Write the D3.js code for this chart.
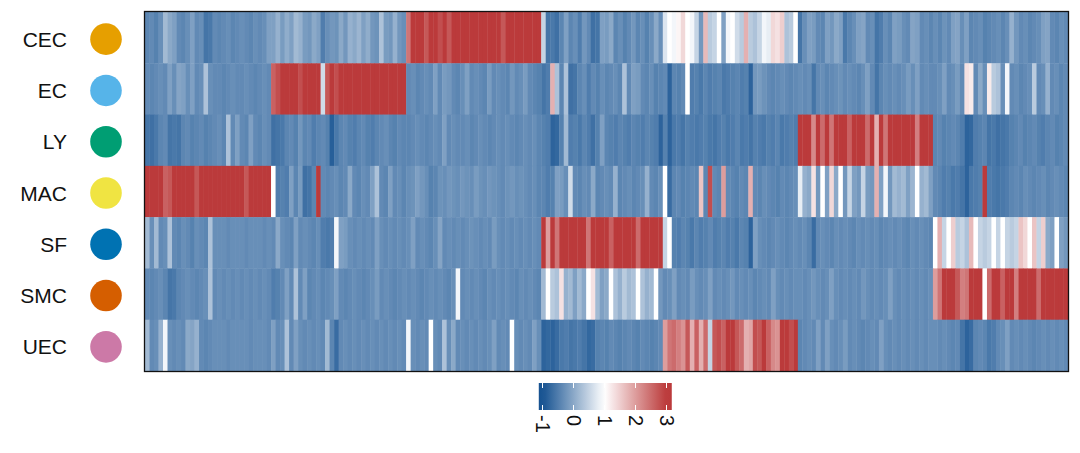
<!DOCTYPE html>
<html>
<head>
<meta charset="utf-8">
<script src="https://cdn.jsdelivr.net/npm/d3@7"></script>
<style>
  body { margin: 0; background: #fff; }
  svg { display: block; font-family: "Liberation Sans", Arial, sans-serif; }
</style>
</head>
<body>
<svg id="chart" width="1080" height="453"></svg>
<script>
// cell types, top to bottom
const rowNames = ['CEC', 'EC', 'LY', 'MAC', 'SF', 'SMC', 'UEC'];
const dotColors = ['#E69F00', '#56B4E9', '#009E73', '#F0E442', '#0072B2', '#D55E00', '#CC79A7'];

// scaled expression per row, marker genes ordered by block:
// MAC(28) | EC(30) | CEC(30) | SF(27) | UEC(30) | LY(30) | SMC(30)
const CEC = [
  -0.4,-0.35,-0.45,-0.3,0.2,0.0,-0.1,-0.35,-0.4,-0.3,-0.1,-0.35,-0.3,-0.6,-0.55,-0.35,-0.4,-0.35,-0.3,-0.4,-0.35,-0.3,-0.35,-0.4,-0.3,-0.35,-0.3,-0.1,
  -0.1,0.1,-0.15,0.05,-0.1,0.2,0.1,-0.15,-0.2,0.0,-0.1,-0.5,-0.3,-0.2,-0.25,0.0,-0.2,0.1,0.0,0.15,-0.1,0.05,-0.2,-0.25,0.3,-0.15,-0.2,0.1,-0.2,-0.3,
  2.4,3,3,3,2.7,3,3,2.8,3,2.7,3,3,3,3,3,3,3,3,3,3,3,2.7,3,3,3,3,3,3,3,3,
  0.5,-0.6,-0.55,-0.65,-0.4,-0.1,-0.4,-0.3,-0.5,-0.2,-0.35,-0.65,-0.6,-0.1,-0.15,0.0,-0.4,-0.3,-0.45,-0.35,-0.2,-0.4,-0.3,-0.45,-0.3,0.0,-0.3,
  0.7,1.0,0.9,1.1,1.4,1.0,0.9,0.5,-0.2,1.7,0.4,0.5,1.0,-0.1,0.9,1.0,0.6,0.4,1.8,0.4,0.3,0.5,0.9,0.8,1.4,1.3,1.5,0.3,0.4,1.0,
  -0.6,-0.3,-0.1,-0.15,-0.35,-0.4,-0.1,-0.2,0.0,-0.1,-0.55,-0.4,-0.3,-0.1,-0.05,-0.35,-0.3,-0.6,-0.5,-0.3,-0.4,-0.1,-0.15,-0.3,-0.35,-0.05,-0.1,-0.35,-0.3,-0.4,
  -0.3,-0.4,-0.25,-0.35,-0.1,-0.05,-0.3,-0.1,-0.4,-0.35,-0.3,-0.45,-0.4,-0.35,-0.3,-0.4,-0.3,0.1,-0.2,-0.35,-0.3,-0.4,-0.35,-0.3,-0.1,-0.05,-0.35,-0.4,-0.3,-0.35
];
const EC = [
  -0.35,-0.4,-0.35,-0.3,-0.35,-0.1,-0.3,-0.05,-0.1,-0.3,-0.1,-0.35,-0.3,0.3,-0.3,-0.35,-0.35,-0.4,-0.35,-0.3,-0.35,-0.35,-0.3,-0.35,-0.4,-0.35,-0.3,-0.35,
  2.6,2.8,3,3,3,3,2.8,3,3,3,3,0.6,2.7,3,2.8,3,3,3,3,3,3,3,3,3,3,3,3,3,3,3,
  -0.35,-0.3,-0.4,-0.35,-0.3,-0.35,-0.1,-0.35,-0.15,-0.2,-0.35,-0.4,-0.3,-0.1,-0.35,-0.3,-0.35,-0.4,-0.15,-0.35,-0.3,-0.35,-0.4,-0.2,-0.35,-0.3,-0.15,-0.35,-0.4,-0.45,
  -0.6,-0.5,1.8,0.3,-0.4,0.3,-0.65,-0.6,-0.4,-0.3,-0.5,-0.35,-0.45,-0.3,-0.4,-0.35,-0.3,-0.4,0.3,-0.35,-0.1,-0.15,-0.35,-0.4,-0.3,-0.45,-0.4,
  -0.35,-0.8,-0.4,-0.45,-0.35,1.0,-0.5,-0.45,-0.55,-0.4,-0.5,-0.45,-0.4,-0.55,-0.5,-0.45,-0.4,-0.5,-0.45,-0.8,-0.2,-0.15,-0.25,-0.35,-0.4,-0.35,-0.3,-0.35,-0.4,-0.35,
  -0.3,-0.35,-0.3,-0.6,-0.35,-0.3,-0.4,-0.35,-0.3,-0.25,-0.35,-0.3,-0.35,-0.4,-0.3,-0.1,-0.35,-0.6,-0.4,-0.3,-0.35,-0.3,-0.35,-0.3,-0.15,-0.3,-0.1,-0.35,-0.3,-0.35,
  -0.35,-0.3,-0.1,-0.35,-0.3,-0.15,-0.35,1.3,1.2,-0.35,0.0,-0.3,1.2,0.4,0.3,-0.3,0.9,-0.35,-0.3,-0.4,-0.35,-0.3,0.4,-0.35,-0.3,0.1,-0.35,-0.3,-0.4,-0.35
];
const LY = [
  -0.6,-0.65,-0.55,-0.4,-0.35,-0.6,-0.55,-0.6,-0.4,-0.35,-0.45,-0.4,-0.35,-0.45,-0.4,-0.35,-0.3,-0.4,0.3,-0.35,-0.1,-0.35,-0.4,-0.1,-0.35,-0.4,-0.3,-0.35,
  -0.65,-0.6,-0.55,-0.4,-0.35,-0.45,-0.2,-0.4,-0.35,-0.5,-0.4,-0.35,-0.45,-0.85,-0.55,-0.4,-0.35,-0.45,-0.5,-0.4,-0.35,-0.45,-0.5,-0.4,-0.35,-0.3,-0.4,-0.45,-0.35,-0.4,
  -0.4,-0.35,-0.3,-0.35,-0.4,-0.35,-0.3,-0.35,-0.1,-0.35,-0.3,-0.35,-0.35,-0.3,-0.4,-0.35,-0.3,-0.35,-0.4,-0.35,-0.3,-0.35,-0.3,-0.35,-0.4,-0.35,-0.3,-0.35,-0.3,-0.4,
  -0.45,-0.5,-0.8,-0.75,-0.45,0.2,-0.5,-0.45,-0.55,-0.4,-0.5,-0.65,-0.45,-0.1,-0.4,-0.45,-0.5,-0.4,-0.45,-0.5,-0.4,-0.45,-0.5,-0.4,-0.45,-0.5,-0.8,
  -0.45,-0.8,-0.55,-0.5,-0.6,-0.45,-0.5,-0.55,-0.5,-0.45,-0.55,-0.6,-0.5,-0.45,-0.55,-0.5,-0.4,-0.55,-0.5,-0.6,-0.45,-0.5,-0.55,-0.45,-0.5,-0.4,-0.55,-0.5,-0.45,-0.5,
  3,3,3,2.2,3,2.5,3,2.4,3,3,3,2.6,3,3,3,2.5,3,1.8,3,2.4,3,3,3,3,3,3,2.3,3,3,3,
  -0.4,-0.35,-0.45,-0.4,-0.35,-0.4,-0.5,-0.8,-0.75,-0.5,-0.45,-0.4,-0.6,-0.55,-0.65,-0.6,-0.55,-0.45,-0.4,-0.35,-0.45,-0.4,-0.35,-0.45,-0.5,-0.4,-0.35,-0.45,-0.4,-0.35
];
const MAC = [
  3,3,3,3,2.6,2.7,3,3,3,3,3,2.7,3,3,3,3,3,3,3,3,3,3,2.7,3,3,3,3,3,
  1.0,-0.5,-0.45,-0.5,-0.1,-0.4,-0.15,-0.65,-0.6,-0.4,3,-0.35,-0.4,-0.35,-0.3,-0.4,-0.35,0.0,-0.35,-0.4,-0.3,-0.35,-0.1,0.3,-0.35,-0.4,-0.1,-0.35,-0.3,-0.4,
  -0.3,-0.25,-0.1,-0.2,-0.3,-0.45,-0.4,-0.25,-0.3,-0.2,-0.25,-0.3,-0.2,-0.25,-0.3,-0.15,-0.25,-0.3,-0.2,-0.25,-0.3,-0.35,-0.25,-0.2,-0.3,-0.25,-0.3,-0.35,-0.3,-0.4,
  -0.4,-0.5,-0.45,-0.1,-0.15,-0.3,0.6,-0.35,-0.4,-0.3,-0.35,0.0,-0.4,-0.35,-0.3,-0.35,0.1,-0.4,-0.35,-0.3,-0.4,-0.35,-0.3,0.1,-0.35,-0.4,-0.3,
  1.0,-0.7,-0.4,-0.35,-0.45,-0.4,-0.35,-0.4,1.6,-0.4,2.8,-0.35,-0.4,2.0,-0.35,-0.4,-0.45,-0.35,-0.4,1.8,-0.35,-0.4,-0.3,-0.35,-0.4,-0.45,-0.35,-0.4,-0.35,-0.3,
  0.8,0.1,0.0,1.3,-0.2,1.0,-0.1,1.4,0.0,1.0,-0.2,0.5,-0.1,-0.2,0.5,-0.15,-0.2,1.8,-0.1,0.9,-0.2,0.2,0.1,0.2,-0.1,0.15,1.0,0.1,0.2,-0.1,
  -0.35,-0.4,-0.5,-0.45,-0.55,-0.5,-0.6,-0.8,-0.55,-0.5,-0.45,3,-0.5,-0.55,-0.6,-0.55,-0.5,-0.4,-0.35,-0.4,-0.3,-0.35,-0.4,-0.35,-0.3,-0.4,-0.35,-0.3,-0.35,-0.4
];
const SF = [
  0.2,-0.3,0.2,-0.35,-0.3,0.3,-0.35,-0.4,-0.3,-0.35,-0.45,-0.3,-0.35,-0.4,0.3,-0.3,-0.3,-0.3,-0.35,-0.3,-0.3,-0.3,-0.35,-0.3,-0.3,-0.3,-0.35,-0.3,
  -0.35,0.0,-0.3,-0.35,-0.4,-0.1,-0.35,-0.3,-0.35,-0.4,-0.3,-0.5,-0.55,-0.5,0.9,-0.1,-0.15,-0.3,-0.35,-0.3,-0.35,-0.3,-0.35,-0.1,-0.3,-0.35,-0.3,-0.35,-0.3,-0.35,
  -0.3,-0.1,-0.35,-0.3,-0.35,-0.4,-0.3,-0.05,-0.35,-0.3,-0.35,-0.3,-0.35,-0.3,-0.25,-0.3,-0.35,-0.3,-0.35,-0.15,-0.3,-0.35,-0.3,-0.35,-0.3,-0.35,-0.3,-0.35,-0.3,-0.35,
  3,2.0,3,2.4,3,3,3,3,3,3,2.4,3,3,3,3,2.6,3,3,3,3,3,2.5,3,3,3,3,3,
  0.5,1.0,-0.45,-0.5,-0.4,-0.45,-0.55,-0.4,-0.5,-0.45,-0.35,-0.5,-0.45,-0.4,-0.5,-0.45,-0.55,-0.4,-0.45,-0.8,-0.1,-0.3,-0.35,-0.4,-0.35,-0.3,-0.35,-0.4,-0.35,-0.3,
  -0.35,-0.3,-0.4,-0.7,-0.35,-0.3,-0.35,-0.4,-0.3,-0.35,-0.3,-0.35,-0.4,-0.3,-0.35,-0.3,-0.35,-0.3,-0.4,-0.35,-0.3,-0.35,-0.3,-0.35,-0.4,-0.3,-0.35,-0.3,-0.35,-0.4,
  1.0,1.8,0.5,1.0,1.5,0.4,0.5,0.3,1.7,1.0,0.5,0.4,0.5,1.0,0.5,1.0,0.5,0.4,0.5,1.6,1.4,1.0,1.6,0.5,1.5,0.0,-0.1,1.0,-0.1,-0.2
];
const SMC = [
  -0.35,-0.4,-0.35,-0.3,-0.4,-0.6,-0.55,-0.4,-0.35,-0.3,-0.35,-0.4,-0.35,-0.3,0.3,-0.35,-0.3,-0.35,-0.3,-0.35,-0.3,-0.35,-0.3,-0.35,-0.3,-0.35,-0.3,-0.35,
  -0.5,-0.45,-0.35,-0.1,-0.35,0.3,-0.35,-0.1,-0.4,-0.35,-0.3,-0.4,-0.35,-0.3,-0.1,-0.35,-0.4,-0.35,-0.3,-0.35,-0.4,-0.35,-0.3,-0.15,-0.35,-0.3,-0.35,-0.4,-0.35,-0.3,
  -0.35,-0.3,-0.35,-0.4,-0.35,-0.3,-0.35,-0.3,-0.35,-0.4,-0.3,0.9,-0.35,-0.3,-0.35,-0.3,-0.35,-0.4,-0.3,-0.35,-0.3,-0.35,-0.3,-0.35,-0.4,-0.3,-0.35,-0.3,-0.35,-0.4,
  0.2,1.0,0.4,0.3,1.3,0.1,0.2,-0.1,0.2,0.0,1.0,1.3,0.2,-0.1,0.0,1.0,0.3,0.1,0.4,0.2,0.3,1.0,0.3,0.1,0.2,1.0,-0.2,
  -0.35,-0.3,-0.1,-0.35,-0.3,-0.35,-0.15,-0.3,-0.35,-0.3,-0.1,-0.35,-0.3,-0.35,-0.3,-0.2,-0.35,-0.3,-0.35,-0.3,-0.4,-0.35,-0.3,-0.35,-0.1,-0.3,-0.35,-0.3,-0.35,-0.3,
  -0.3,-0.35,-0.3,-0.2,-0.3,-0.35,-0.3,-0.1,-0.3,-0.35,-0.3,-0.35,-0.3,-0.35,-0.2,-0.3,-0.35,-0.3,-0.35,-0.3,-0.1,-0.3,-0.35,-0.3,-0.35,-0.3,-0.35,-0.3,-0.35,-0.3,
  2.0,2.4,3,3,3,2.7,2.3,2.4,3,3,3,1.0,2.5,3,3,2.6,3,3,2.3,3,3,3,3,2.5,3,3,3,3,3,3
];
const UEC = [
  0.2,-0.35,-0.3,0.1,0.9,-0.3,-0.35,-0.3,-0.35,0.0,-0.05,0.1,-0.35,-0.4,-0.35,-0.3,-0.3,-0.3,-0.35,-0.3,-0.3,-0.3,-0.3,-0.35,-0.3,-0.3,-0.3,-0.35,
  -0.1,-0.35,-0.3,0.3,-0.35,-0.1,-0.3,-0.35,-0.3,-0.35,-0.3,-0.35,0.2,-0.4,-0.7,-0.35,-0.3,-0.35,-0.3,-0.35,-0.3,-0.35,-0.3,-0.35,-0.3,-0.35,-0.3,-0.35,-0.3,-0.35,
  0.9,-0.3,-0.35,-0.3,-0.35,1.0,-0.3,-0.35,0.3,-0.3,0.0,-0.35,-0.3,-0.35,-0.3,-0.35,-0.3,-0.35,-0.3,-0.1,-0.35,-0.3,-0.35,1.0,-0.3,-0.35,-0.3,-0.35,-0.1,-0.3,
  -0.8,-0.75,-0.8,-0.7,-0.55,-0.5,-0.6,-0.55,-0.5,-0.6,-0.75,-0.7,-0.45,-0.4,-0.45,-0.35,-0.4,-0.45,-0.4,-0.35,-0.4,-0.45,-0.35,-0.4,-0.45,-0.4,-0.35,
  2.0,2.4,2.5,2.3,2.1,2.7,1.8,2.6,1.8,2.5,0.5,2.7,2.8,2.6,3,3,2.7,2.5,1.8,1.9,2.8,2.7,3,2.6,2.2,2.1,3,3,2.8,3,
  -0.4,-0.35,-0.3,-0.35,-0.1,-0.35,-0.1,-0.3,-0.35,-0.3,-0.15,-0.35,-0.3,-0.35,-0.4,-0.35,-0.3,-0.35,-0.1,-0.3,-0.35,-0.3,-0.35,-0.3,-0.35,-0.3,-0.35,-0.3,-0.35,-0.3,
  -0.3,-0.35,-0.3,-0.35,-0.4,-0.35,-0.6,-0.8,-0.7,-0.4,-0.35,-0.4,-0.55,-0.5,-0.35,-0.3,-0.1,-0.35,-0.3,-0.35,-0.3,-0.35,-0.4,-0.35,-0.3,-0.35,-0.3,-0.35,-0.3,-0.35
];
const rowValues = [CEC, EC, LY, MAC, SF, SMC, UEC];

const legendTicks = [-1, 0, 1, 2, 3];
const legendRange = [-1.12, 3.17];

const svg = d3.select('#chart');

const nCols = CEC.length;
const x = d3.scaleBand().domain(d3.range(nCols)).range([145, 1068]);
const y = d3.scaleBand().domain(rowNames).range([12, 371]);

const color = d3.scaleLinear()
	.domain([-1, 1, 3])
	.range(['#165291', '#ffffff', '#bb3a3b'])
	.interpolate(d3.interpolateRgb)
	.clamp(true);

// heatmap cells
const cells = [];
rowValues.forEach((vals, r) => {
	vals.forEach((v, c) => cells.push({ row: rowNames[r], col: c, value: v }));
});

svg.append('g')
	.selectAll('rect')
	.data(cells)
	.enter()
	.append('rect')
	.attr('x', (d) => x(d.col))
	.attr('y', (d) => y(d.row))
	.attr('width', x.bandwidth() + 0.4)
	.attr('height', y.bandwidth() + 0.4)
	.attr('fill', (d) => color(d.value));

// panel border
svg.append('rect')
	.attr('x', 144.5)
	.attr('y', 11.5)
	.attr('width', 924)
	.attr('height', 360)
	.attr('fill', 'none')
	.attr('stroke', '#111')
	.attr('stroke-width', 1.3);

// row labels with cell type dots
const rowLabels = svg.append('g')
	.selectAll('g')
	.data(rowNames)
	.enter()
	.append('g')
	.attr('transform', (d) => `translate(0,${y(d) + y.bandwidth() / 2 + 1.5})`);

rowLabels.append('text')
	.attr('x', 67)
	.attr('text-anchor', 'end')
	.attr('dominant-baseline', 'central')
	.attr('font-size', 21)
	.attr('fill', '#111')
	.text((d) => d);

rowLabels.append('circle')
	.attr('cx', 106)
	.attr('r', 15.8)
	.attr('fill', (d, i) => dotColors[i]);

// colour bar legend
const lx = d3.scaleLinear().domain([-1, 3]).range([542.5, 666.5]);
const defs = svg.append('defs');
const grad = defs.append('linearGradient').attr('id', 'legendGrad');
d3.range(0, 1.0001, 0.05).forEach((t) => {
	const v = legendRange[0] + t * (legendRange[1] - legendRange[0]);
	grad.append('stop').attr('offset', t).attr('stop-color', color(v));
});

const legend = svg.append('g');
const barTop = 383;
const barH = 27;
legend.append('rect')
	.attr('x', lx(legendRange[0]))
	.attr('y', barTop)
	.attr('width', lx(legendRange[1]) - lx(legendRange[0]))
	.attr('height', barH)
	.attr('fill', 'url(#legendGrad)');

legendTicks.forEach((t) => {
	legend.append('line')
		.attr('x1', lx(t)).attr('x2', lx(t))
		.attr('y1', barTop).attr('y2', barTop + 5)
		.attr('stroke', '#fff').attr('stroke-width', 1);
	legend.append('line')
		.attr('x1', lx(t)).attr('x2', lx(t))
		.attr('y1', barTop + barH - 5).attr('y2', barTop + barH)
		.attr('stroke', '#fff').attr('stroke-width', 1);
});

legend.selectAll('text')
	.data(legendTicks)
	.enter()
	.append('text')
	.attr('transform', (d) => `translate(${lx(d)},${barTop + barH + 5}) rotate(90)`)
	.attr('text-anchor', 'start')
	.attr('dominant-baseline', 'central')
	.attr('font-size', 20)
	.attr('fill', '#111')
	.text((d) => d);
</script>
</body>
</html>
